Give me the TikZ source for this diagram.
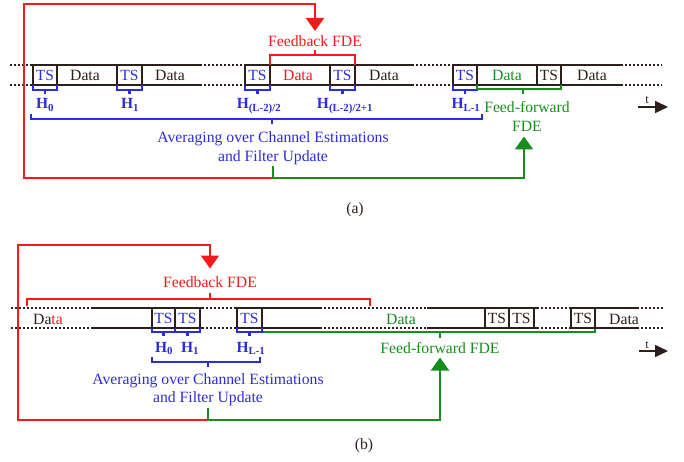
\documentclass[tikz,border=0pt]{standalone}
\usepackage{fontspec}
\setmainfont{Liberation Serif}
\usetikzlibrary{arrows.meta}
\definecolor{fr}{RGB}{45,32,28}
\definecolor{rd}{RGB}{245,25,25}
\definecolor{bl}{RGB}{45,45,215}
\definecolor{gr}{RGB}{25,140,30}
\begin{document}
\begin{tikzpicture}[x=1pt,y=-1pt,
  every node/.style={font=\fontsize{15.7}{17}\selectfont, inner sep=0pt},
  ln/.style={draw=fr, line width=2.2pt},
  dl/.style={draw=fr, line width=2.2pt, dash pattern=on 2pt off 2pt},
  tsbox/.style={draw=fr, line width=2.2pt, minimum width=24pt, minimum height=20pt, fill=white, font=\fontsize{15.5}{16}\selectfont},
  br/.style={line width=2.2pt, line join=miter},
  fbl/.style={draw=rd, line width=2.2pt, line join=miter},
  ffl/.style={draw=gr, line width=2.2pt, line join=miter},
  hlab/.style={text=bl, anchor=base, font=\fontsize{15.5}{16}\selectfont\bfseries},
  lab/.style={anchor=base},
  bigtip/.style={-{Triangle[length=13pt,width=18pt]}},
  tarrow/.style={draw=fr, line width=1.6pt, -{Triangle[length=13pt,width=12pt]}}
]
\useasboundingbox (0,0) rectangle (684,462);

% ================= (a) =================
\foreach \y in {65,85} {
  \draw[dl] (10,\y) -- (33,\y);
  \draw[ln] (33,\y) -- (200,\y);
  \draw[dl] (200,\y) -- (245,\y);
  \draw[ln] (245,\y) -- (412,\y);
  \draw[dl] (412,\y) -- (453,\y);
  \draw[ln] (453,\y) -- (621,\y);
  \draw[dl] (621,\y) -- (662,\y);
}
\node[tsbox, text=bl, minimum width=24pt] (a1) at (45,75) {TS};
\node[tsbox, text=bl, minimum width=25pt] (a2) at (129.5,75) {TS};
\node[tsbox, text=bl, minimum width=25pt] (a3) at (257.5,75) {TS};
\node[tsbox, text=bl, minimum width=25pt] (a4) at (342.5,75) {TS};
\node[tsbox, text=bl, minimum width=24pt] (a5) at (465,75) {TS};
\node[tsbox, text=fr, minimum width=24pt] (a6) at (549,75) {TS};
\node[lab, text=fr] (ad1) at (85,81) {Data};
\node[lab, text=fr] (ad2) at (170,81) {Data};
\node[lab, text=rd] (ad3) at (298,81) {Data};
\node[lab, text=fr] (ad4) at (384,81) {Data};
\node[lab, text=gr] (ad5) at (507,81) {Data};
\node[lab, text=fr] (ad6) at (592,81) {Data};

% small blue brackets
\foreach \l/\r in {33/57, 117/142, 245/270, 330/355, 453/477} {
  \draw[br, draw=bl] (\l,85) -- (\l,90) -- (\r,90) -- (\r,85);
  \draw[br, draw=bl] ({(\l+\r)/2},90) -- ({(\l+\r)/2},94);
}
\node[hlab] (ah0) at (45,109) {H\textsubscript{0}};
\node[hlab] (ah1) at (130,109) {H\textsubscript{1}};
\node[hlab] (ah2) at (259,109) {H\textsubscript{(L-2)/2}};
\node[hlab] (ah3) at (345,109) {H\textsubscript{(L-2)/2+1}};
\node[hlab] (ah4) at (466,109) {H\textsubscript{L-1}};

% long blue brace
\draw[br, draw=bl] (31,114) -- (31,119) -- (482,119) -- (482,114);
\draw[br, draw=bl] (272,119) -- (272,124);
\node[lab, text=bl] (aavg1) at (273,142.5) {Averaging over Channel Estimations};
\node[lab, text=bl] (aavg2) at (273,161.5) {and Filter Update};

% red bracket and feedback
\draw[fbl] (270,65) -- (270,55) -- (355,55) -- (355,65);
\draw[fbl] (315,55) -- (315,50);
\node[lab, text=rd] (afb) at (315,46.5) {Feedback FDE};
\coordinate (aS) at (273,178);
\coordinate (aL) at (24,178);
\coordinate (aT) at (24,4);
\coordinate (aR) at (315,4);
\coordinate (aFBtip) at (315,31);
\draw[fbl, bigtip] (aS) -- (aL) -- (aT) -- (aR) -- (aFBtip);

% green bracket and feed-forward
\draw[ffl] (477,85) -- (477,89) -- (561,89) -- (561,85);
\draw[ffl] (523,89) -- (523,94);
\node[lab, text=gr] (aff1) at (527,113) {Feed-forward};
\node[lab, text=gr] (aff2) at (527,131.5) {FDE};
\coordinate (aG0) at (273,166);
\coordinate (aG2) at (524,178);
\coordinate (aFFtip) at (524,136.5);
\draw[ffl, bigtip] (aG0) -- (aS) -- (aG2) -- (aFFtip);

% time arrow
\coordinate (at0) at (638,107);
\coordinate (at1) at (668,107);
\draw[tarrow] (at0) -- (at1);
\node[lab, text=fr, font=\fontsize{12.5}{12}\selectfont] (atl) at (647,104) {t};

\node[lab, text=fr] (alab) at (355,213) {(a)};

% ================= (b) =================
\foreach \y in {308,328} {
  \draw[dl] (11,\y) -- (92,\y);
  \draw[ln] (92,\y) -- (202,\y);
  \draw[dl] (202,\y) -- (237,\y);
  \draw[ln] (237,\y) -- (320,\y);
  \draw[dl] (320,\y) -- (427,\y);
  \draw[ln] (427,\y) -- (537,\y);
  \draw[dl] (537,\y) -- (569,\y);
  \draw[ln] (569,\y) -- (637,\y);
  \draw[dl] (637,\y) -- (664,\y);
}
% green bracket
\draw[ffl] (262,328) -- (262,332) -- (595,332) -- (595,328);
\draw[ffl] (440,332) -- (440,338);

\node[tsbox, text=bl, minimum width=23pt] (b1) at (163.5,318) {TS};
\node[tsbox, text=bl, minimum width=25pt] (b2) at (187.5,318) {TS};
\node[tsbox, text=bl, minimum width=25pt] (b3) at (249.5,318) {TS};
\node[tsbox, text=fr, minimum width=24pt] (b4) at (497,318) {TS};
\node[tsbox, text=fr, minimum width=25pt] (b5) at (521.5,318) {TS};
\node[tsbox, text=fr, minimum width=24pt] (b6) at (583,318) {TS};
\node[lab, text=fr] (bd1) at (48,324) {Da\textcolor{rd}{ta}};
\node[lab, text=gr] (bd2) at (401,324) {Data};
\node[lab, text=fr] (bd3) at (624,324) {Data};

\foreach \l/\r in {152/175, 175/200, 237/262} {
  \draw[br, draw=bl] (\l,328) -- (\l,332) -- (\r,332) -- (\r,328);
  \draw[br, draw=bl] ({(\l+\r)/2},332) -- ({(\l+\r)/2},336);
}
\node[hlab] (bh0) at (164,352) {H\textsubscript{0}};
\node[hlab] (bh1) at (190,352) {H\textsubscript{1}};
\node[hlab] (bh2) at (251,352) {H\textsubscript{L-1}};

\draw[br, draw=bl] (152,357) -- (152,362) -- (260,362) -- (260,357);
\draw[br, draw=bl] (208,362) -- (208,367);
\node[lab, text=bl] (bavg1) at (208,384) {Averaging over Channel Estimations};
\node[lab, text=bl] (bavg2) at (208,402.5) {and Filter Update};

% red bracket and feedback
\draw[fbl] (27,306) -- (27,299) -- (370,299) -- (370,306);
\draw[fbl] (210,299) -- (210,293);
\node[lab, text=rd] (bfb) at (210,287) {Feedback FDE};
\coordinate (bS) at (208,420);
\coordinate (bL) at (18,420);
\coordinate (bT) at (18,245);
\coordinate (bR) at (210,245);
\coordinate (bFBtip) at (210,268.5);
\draw[fbl, bigtip] (bS) -- (bL) -- (bT) -- (bR) -- (bFBtip);

\node[lab, text=gr] (bff) at (440,353) {Feed-forward FDE};
\coordinate (bG0) at (208,408);
\coordinate (bG2) at (440,420);
\coordinate (bFFtip) at (440,357.5);
\draw[ffl, bigtip] (bG0) -- (bS) -- (bG2) -- (bFFtip);

\coordinate (bt0) at (639,351);
\coordinate (bt1) at (668,351);
\draw[tarrow] (bt0) -- (bt1);
\node[lab, text=fr, font=\fontsize{12.5}{12}\selectfont] (btl) at (647,348) {t};

\node[lab, text=fr] (blab) at (364,449) {(b)};
\end{tikzpicture}
\end{document}
